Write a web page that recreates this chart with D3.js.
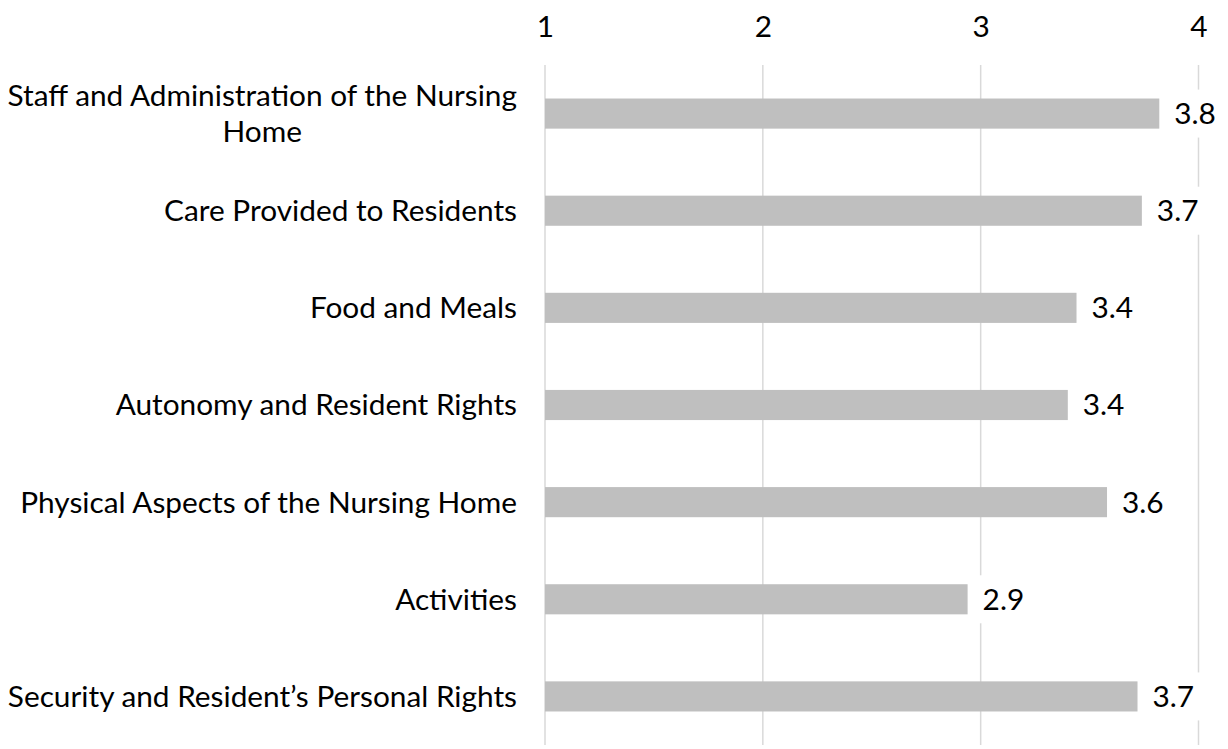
<!DOCTYPE html>
<html>
<head>
<meta charset="utf-8">
<script src="https://cdn.jsdelivr.net/npm/d3@7"></script>
<style>
    body { margin: 0; background: #fff; }
    text { font-family: Lato, "Open Sans", sans-serif; fill: #000; }
    .grid line { stroke: #d9d9d9; stroke-width: 1.5; }
    .bar { fill: #bfbfbf; }
</style>
</head>
<body>
<div id="chart"></div>
<script>
const W = 1228, H = 749;
const margin = {top: 65, right: 30, bottom: 4, left: 545};

const categories = [
    "Staff and Administration of the Nursing Home",
    "Care Provided to Residents",
    "Food and Meals",
    "Autonomy and Resident Rights",
    "Physical Aspects of the Nursing Home",
    "Activities",
    "Security and Resident\u2019s Personal Rights"
];
const scores = [3.82, 3.74, 3.44, 3.40, 3.58, 2.94, 3.72];
const xTicks = [1, 2, 3, 4];

const FONT = 29.8;

const svg = d3.select("#chart").append("svg")
    .attr("width", W)
    .attr("height", H);

const x = d3.scaleLinear()
    .domain([1, 4])
    .range([margin.left, 1198.5]);

const y = d3.scaleBand()
    .domain(categories)
    .range([margin.top, H - margin.bottom])
    .paddingInner(0.69)
    .paddingOuter(0.345);

// vertical gridlines
svg.append("g")
   .attr("class", "grid")
   .selectAll("line")
   .data(xTicks)
   .enter()
   .append("line")
   .attr("x1", d => x(d))
   .attr("x2", d => x(d))
   .attr("y1", margin.top)
   .attr("y2", H - margin.bottom);

// top axis labels
const xAxis = d3.axisTop(x).tickValues(xTicks).tickFormat(d3.format("d")).tickSize(0).tickPadding(0);
const axG = svg.append("g")
   .attr("transform", "translate(0,37)")
   .call(xAxis);
axG.select(".domain").remove();
axG.selectAll("text")
   .attr("font-size", FONT)
   .attr("font-family", "Lato, sans-serif")
   .attr("fill", "#000");

// bars
svg.append("g")
   .selectAll("rect")
   .data(scores)
   .enter()
   .append("rect")
   .attr("class", "bar")
   .attr("x", x(1))
   .attr("y", (d, i) => y(categories[i]))
   .attr("width", d => x(d) - x(1))
   .attr("height", y.bandwidth());

// value labels with white background
const fmt = d3.format(".1f");
const valG = svg.append("g")
   .selectAll("g")
   .data(scores)
   .enter()
   .append("g")
   .attr("transform", (d, i) => `translate(${x(d) + 15},${y(categories[i]) + y.bandwidth() / 2})`);
valG.append("rect")
   .attr("x", -7)
   .attr("y", -24)
   .attr("width", 57)
   .attr("height", 48)
   .attr("fill", "#fff");
valG.append("text")
   .attr("dy", "0.35em")
   .attr("font-size", FONT)
   .text(d => fmt(d));

// category labels, wrapped and centered within a right-aligned block
const LABEL_RIGHT = 517, MAX_W = 515;
const catG = svg.append("g");
categories.forEach(function(c, i){
    const cy = y(c) + y.bandwidth() / 2;
    const t = catG.append("text")
        .attr("font-size", FONT);
    // split into lines
    const words = c.split(" ");
    let lines = [], cur = [];
    words.forEach(function(w){
        t.text(cur.concat(w).join(" "));
        if (t.node().getComputedTextLength() > MAX_W && cur.length) {
            lines.push(cur.join(" "));
            cur = [w];
        } else {
            cur.push(w);
        }
    });
    lines.push(cur.join(" "));
    t.text(null);
    let widths = lines.map(function(l){ t.text(l); const w = t.node().getComputedTextLength(); t.text(null); return w; });
    const blockW = d3.max(widths);
    const lh = 36;
    const y0 = cy - (lines.length - 1) * lh / 2;
    t.attr("text-anchor", lines.length > 1 ? "middle" : "end");
    lines.forEach(function(l, j){
        t.append("tspan")
         .attr("x", lines.length > 1 ? LABEL_RIGHT - blockW / 2 : LABEL_RIGHT)
         .attr("y", y0 + j * lh)
         .attr("dy", "0.35em")
         .text(l);
    });
});
</script>
</body>
</html>
